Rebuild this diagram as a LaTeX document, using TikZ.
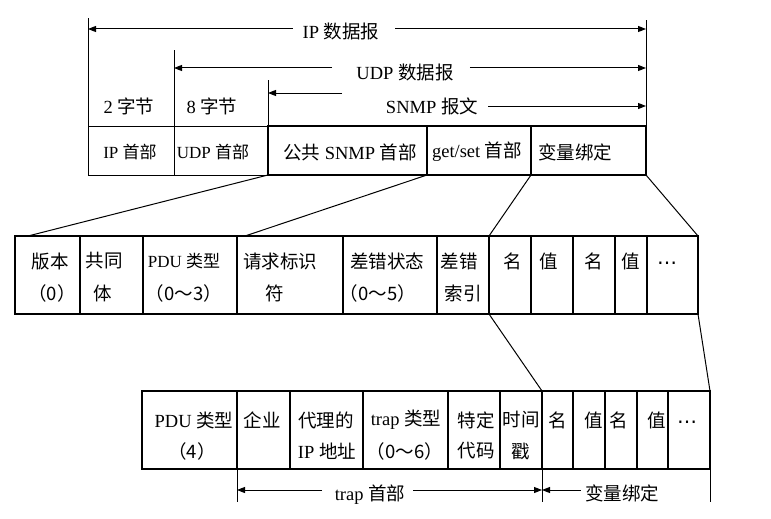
\documentclass[tikz,border=0pt]{standalone}
\usepackage{fontspec}
\setmainfont{Liberation Serif}
\newfontfamily\cjk{Noto Sans CJK SC}
\newfontfamily\djv{DejaVu Sans}
\usetikzlibrary{arrows.meta,calc}
\newcommand\zh[1]{{\cjk #1}}
\newcommand\mdots{{\djv\fontsize{20}{20}\selectfont ⋯}}
\newcommand\mkcell[6][1.5pt]{\node[fldst=#1,minimum width={#4pt-#3pt},minimum height={#6pt-#5pt}] (#2) at ({(#3+#4)/2},{(#5+#6)/2}) {};}
\begin{document}
\begin{tikzpicture}[x=1pt,y=-1pt,
 font=\fontsize{18.5}{22}\selectfont,
 txt/.style={inner sep=0pt,anchor=center},
 small/.style={font=\fontsize{17}{20}\selectfont},
 fldst/.style={draw,line width=#1,inner sep=0pt,outer sep=0pt},
 fldst/.default=1.5pt,
 outline/.style={draw,line width=2.5pt},
 link/.style={line width=1pt},
 arr/.style={line width=1pt,-{Triangle[length=8pt,width=6pt]}}]
\useasboundingbox (0,0) rectangle (771,519);

% ---------- top row ----------
\mkcell[1pt]{ipc}{88}{174}{126}{175}
\mkcell[1pt]{udpc}{174}{268}{126}{175}
\mkcell[2pt]{snmpc}{268}{427}{126}{175}
\mkcell[2pt]{getset}{427}{531}{126}{175}
\mkcell[2pt]{varb}{531}{646}{126}{175}
\draw[outline] (snmpc.north west) rectangle (varb.south east);

\node[txt,small] (tip) at (130,152) {IP \zh{首部}};
\node[txt,small] (tudp) at (213,152) {UDP \zh{首部}};
\node[txt] (tsnmp) at (350,152) {\zh{公共} SNMP \zh{首部}};
\node[txt] (tgs) at (477,152) {get/set \zh{首部}};
\node[txt] (tvb) at (575,152) {\zh{变量绑定}};

\node[txt] (t2b) at (129,106) {2 \zh{字节}};
\node[txt] (t8b) at (212,106) {8 \zh{字节}};

% vertical extents
\coordinate (ipTop) at (88,18);
\coordinate (udpTop) at (174,50);
\coordinate (snTop) at (268,80);
\coordinate (rTop) at (646,20);
\draw[link] (ipc.north west) -- (ipTop);
\draw[link] (udpc.north west) -- (udpTop);
\draw[link] (snmpc.north west) -- (snTop);
\draw[link] (varb.north east) -- (rTop);

% dimension arrows
\node[txt] (lip) at (341,31) {IP \zh{数据报}};
\coordinate (ipL) at (88,29);
\coordinate (ipR) at (646,29);
\draw[arr] ($(lip.west)+(-10,-2)$) -- (ipL);
\draw[arr] ($(lip.east)+(16,-2)$) -- (ipR);

\node[txt] (ludp) at (405,72) {UDP \zh{数据报}};
\coordinate (udpL) at (174,68);
\coordinate (udpR) at (646,68);
\draw[arr] (332,68) -- (udpL);
\draw[arr] ($(ludp.east)+(16,-4)$) -- (udpR);

\node[txt] (lsn) at (432,106) {SNMP \zh{报文}};
\coordinate (snL) at (268,93);
\coordinate (snA) at (342,93);
\coordinate (snR) at (646,106);
\draw[arr] (snA) -- (snL);
\draw[arr] ($(lsn.east)+(10,0)$) -- (snR);

% ---------- middle row ----------
\mkcell{ver}{15}{80}{236}{314}
\mkcell{com}{80}{143}{236}{314}
\mkcell{pdu}{143}{237}{236}{314}
\mkcell{req}{237}{343}{236}{314}
\mkcell{est}{343}{437}{236}{314}
\mkcell{eidx}{437}{489}{236}{314}
\mkcell{na}{489}{531}{236}{314}
\mkcell{va}{531}{573}{236}{314}
\mkcell{nb}{573}{615}{236}{314}
\mkcell{vb}{615}{647}{236}{314}
\mkcell{mdts}{647}{698}{236}{314}
\draw[outline] (ver.north west) rectangle (mdts.south east);

\node[txt] (m1a) at (50,261) {\zh{版本}};
\node[txt] (m1b) at (52,293) {\zh{（0）}};
\node[txt] (m2a) at (104,261) {\zh{共同}};
\node[txt] (m2b) at (103,293) {\zh{体}};
\node[txt,small] (m3a) at (184,261) {PDU \zh{类型}};
\node[txt] (m3b) at (184,293) {\zh{（0～3）}};
\node[txt] (m4a) at (280,261) {\zh{请求标识}};
\node[txt] (m4b) at (275,293) {\zh{符}};
\node[txt] (m5a) at (387,261) {\zh{差错状态}};
\node[txt] (m5b) at (378,293) {\zh{（0～5）}};
\node[txt] (m6a) at (459,261) {\zh{差错}};
\node[txt] (m6b) at (463,293) {\zh{索引}};
\node[txt] (m7) at (513,261) {\zh{名}};
\node[txt] (m8) at (549,261) {\zh{值}};
\node[txt] (m9) at (594,261) {\zh{名}};
\node[txt] (m10) at (631,261) {\zh{值}};
\node[txt] (m11) at (667,266) {\mdots};

% ---------- bottom row ----------
\mkcell{bpdu}{142}{237}{391}{469}
\mkcell{ent}{237}{290}{391}{469}
\mkcell{agip}{290}{363}{391}{469}
\mkcell{trt}{363}{448}{391}{469}
\mkcell{spc}{448}{500}{391}{469}
\mkcell{tst}{500}{542}{391}{469}
\mkcell{bna}{542}{573}{391}{469}
\mkcell{bva}{573}{605}{391}{469}
\mkcell{bnb}{605}{637}{391}{469}
\mkcell{bvb}{637}{668}{391}{469}
\mkcell{bdts}{668}{710}{391}{469}
\draw[outline] (bpdu.north west) rectangle (bdts.south east);

\node[txt] (b1a) at (194,420) {PDU \zh{类型}};
\node[txt] (b1b) at (192,451) {\zh{（4）}};
\node[txt] (b2a) at (262,420) {\zh{企业}};
\node[txt] (b3a) at (326,420) {\zh{代理的}};
\node[txt] (b3b) at (327,451) {IP \zh{地址}};
\node[txt] (b4a) at (406,420) {trap \zh{类型}};
\node[txt] (b4b) at (405,451) {\zh{（0～6）}};
\node[txt] (b5a) at (476,420) {\zh{特定}};
\node[txt] (b5b) at (476,451) {\zh{代码}};
\node[txt] (b6a) at (521,420) {\zh{时间}};
\node[txt] (b6b) at (521,451) {\zh{戳}};
\node[txt] (b7) at (558,420) {\zh{名}};
\node[txt] (b8) at (594,420) {\zh{值}};
\node[txt] (b9) at (619,420) {\zh{名}};
\node[txt] (b10) at (657,420) {\zh{值}};
\node[txt] (b11) at (687,425) {\mdots};

% bottom dimension lines
\coordinate (bv1) at (237,502);
\coordinate (bv2) at (542,502);
\coordinate (bv3) at (710,502);
\draw[link] (ent.south west) -- (bv1);
\draw[link] (tst.south east) -- (bv2);
\draw[link] (bdts.south east) -- (bv3);
\node[txt] (ltrap) at (370,495) {trap \zh{首部}};
\coordinate (trL) at (237,490);
\coordinate (trR) at (542,490);
\draw[arr] (322,490) -- (trL);
\draw[arr] ($(ltrap.east)+(8,-5)$) -- (trR);
\node[txt] (lvb) at (622,493) {\zh{变量绑定}};
\coordinate (vbL) at (542,490);
\draw[arr] ($(lvb.west)+(-4,-3)$) -- (vbL);

% ---------- expansion lines ----------
\draw[link] (snmpc.south west) -- ($(ver.north west)+(13,0)$);
\draw[link] (snmpc.south east) -- ($(req.north west)+(8,0)$);
\draw[link] (getset.south east) -- (na.north west);
\draw[link] (varb.south east) -- (mdts.north east);
\draw[link] (na.south west) -- (bna.north west);
\draw[link] (mdts.south east) -- (bdts.north east);
\end{tikzpicture}
\end{document}
